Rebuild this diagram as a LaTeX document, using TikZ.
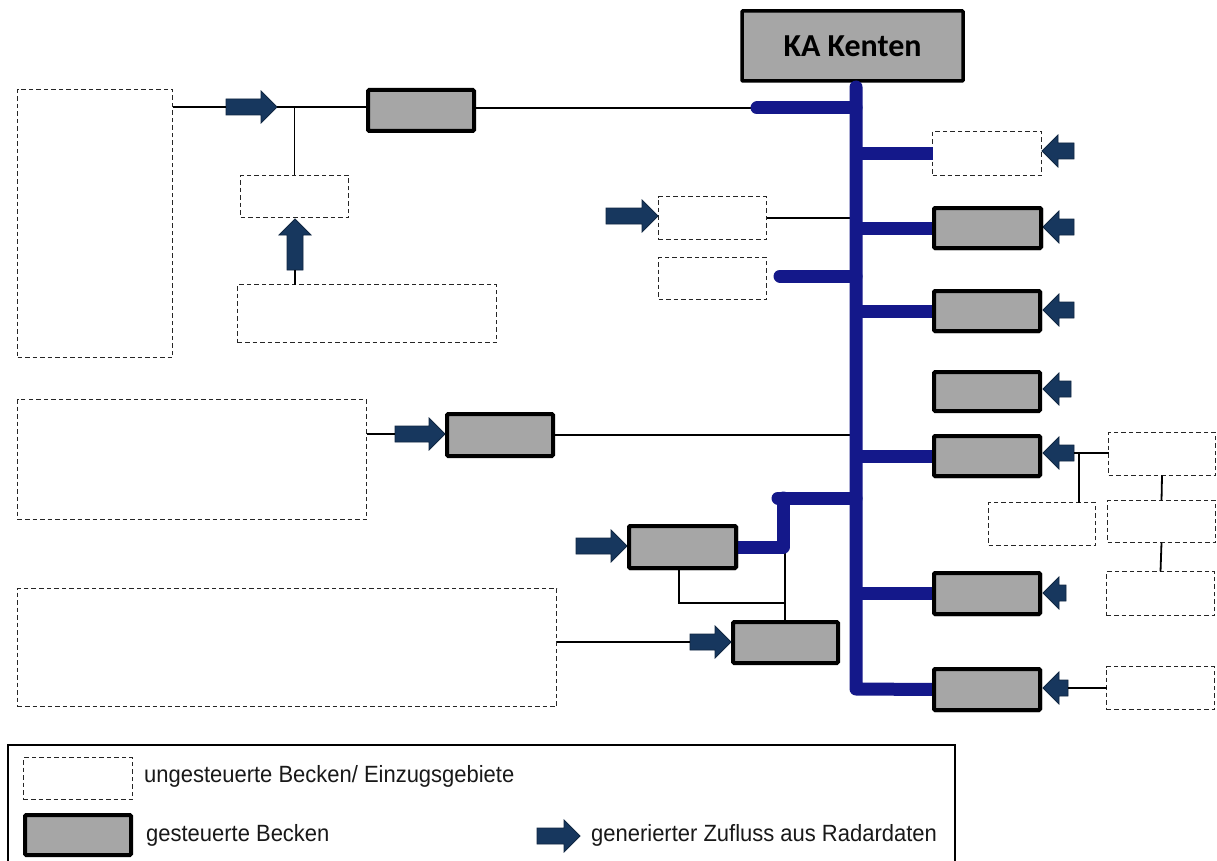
\documentclass[tikz,border=0pt]{standalone}
\usepackage{fontspec}
\setmainfont{Liberation Sans}
\newfontfamily\kafont{Carlito}
\newfontfamily\legfont[FakeStretch=0.935]{Liberation Sans}
\definecolor{busblue}{RGB}{20,24,138}
\definecolor{arrnavy}{RGB}{23,55,94}
\definecolor{basin}{RGB}{166,166,166}
\tikzset{
  unc/.style={draw=black!85, dash pattern=on 4.5pt off 3pt, line width=1.5pt, fill=white, inner sep=0pt, outer sep=0pt},
  ctl/.style={draw=black, line width=4pt, fill=basin, rounded corners=1.2pt, inner sep=0pt, outer sep=0pt},
  thin/.style={draw=black, line width=1.8pt},
  busline/.style={draw=busblue, line width=13pt, line cap=round, line join=round},
  arrowbody/.style={fill=arrnavy, draw=arrnavy!70!black, line width=0.8pt},
  legtext/.style={font=\legfont\fontsize{23.5}{27}\selectfont, anchor=west, inner sep=0pt, text=black!90},
  pics/flowarrow/.style={code={
    \filldraw[arrowbody] (0,0) -- (-16,-16) -- (-16,-8) -- (-#1,-8) -- (-#1,8) -- (-16,8) -- (-16,16) -- cycle;
    \coordinate (-tip) at (0,0);
    \coordinate (-tail) at (-#1,0);
  }}
}
\begin{document}
\begin{tikzpicture}[x=1pt,y=-1pt]
\fill[white] (0,0) rectangle (1217,861);
\useasboundingbox (0,0) rectangle (1217,861);

% uncontrolled basins
\node[unc, minimum width=155pt, minimum height=268pt] (lt) at (95,223.5) {};
\node[unc, minimum width=108pt, minimum height=42pt] (sd) at (294.5,196.5) {};
\node[unc, minimum width=259pt, minimum height=58pt] (ld) at (367,313.5) {};
\node[unc, minimum width=349pt, minimum height=120pt] (m1) at (192,459.5) {};
\node[unc, minimum width=539pt, minimum height=118pt] (m2) at (287,647.5) {};
\node[unc, minimum width=108pt, minimum height=43pt] (l1) at (712.5,218) {};
\node[unc, minimum width=108pt, minimum height=42pt] (l2) at (712.5,278.5) {};
\node[unc, minimum width=109pt, minimum height=44pt] (r1) at (987,153.5) {};
\node[unc, minimum width=107pt, minimum height=43pt] (rr1) at (1162,454) {};
\node[unc, minimum width=108pt, minimum height=42pt] (rr2) at (1161.5,521.5) {};
\node[unc, minimum width=107pt, minimum height=43pt] (rl) at (1042,524) {};
\node[unc, minimum width=108pt, minimum height=44pt] (rr3) at (1160.5,593.5) {};
\node[unc, minimum width=108pt, minimum height=43pt] (rr4) at (1160.5,688) {};

% controlled basins
\node[ctl, minimum width=221pt, minimum height=70pt, line width=3.5pt, rounded corners=0.8pt,
      font=\kafont\bfseries\fontsize{32}{36}\selectfont] (ka) at (852.5,46) {KA Kenten};
\node[ctl, minimum width=106pt, minimum height=41pt] (ctop) at (421,110.5) {};
\node[ctl, minimum width=106pt, minimum height=42pt] (cm) at (500,435) {};
\node[ctl, minimum width=107pt, minimum height=42pt] (c1) at (682.5,547) {};
\node[ctl, minimum width=105pt, minimum height=41pt] (c2) at (785.5,642.5) {};
\node[ctl, minimum width=107pt, minimum height=40pt] (r2) at (987.5,228) {};
\node[ctl, minimum width=106pt, minimum height=40pt] (r3) at (987,311) {};
\node[ctl, minimum width=106pt, minimum height=39pt] (r4) at (987,391.5) {};
\node[ctl, minimum width=106pt, minimum height=40pt] (r5) at (987,456) {};
\node[ctl, minimum width=106pt, minimum height=41pt] (r6) at (987,593.5) {};
\node[ctl, minimum width=106pt, minimum height=41pt] (r7) at (987,689.5) {};

% generated inflow arrows
\pic (a1) at (277,107) {flowarrow=51};
\pic[rotate=90] (a2) at (295,219) {flowarrow=51};
\pic (am) at (445,434) {flowarrow=50};
\pic (al1) at (658,216) {flowarrow=52};
\pic (ac1) at (627,546) {flowarrow=51};
\pic (ac2) at (731,642) {flowarrow=41};
\pic[rotate=180] (ar1) at (1042,151) {flowarrow=32};
\pic[rotate=180] (ar2) at (1043,227) {flowarrow=31};
\pic[rotate=180] (ar3) at (1043,310) {flowarrow=31};
\pic[rotate=180] (ar4) at (1043,389) {flowarrow=28};
\pic[rotate=180] (ar5) at (1043,453) {flowarrow=31};
\pic[rotate=180] (ar6) at (1043,593) {flowarrow=23};
\pic[rotate=180] (ar7) at (1043,688) {flowarrow=25};

% helper coordinates
\coordinate (bustop) at (856,87);
\coordinate (busbot) at (856,689);
\coordinate (tcap) at (757,108);
\coordinate (l2cap) at (780,276);
\coordinate (mcap) at (778,498);
\coordinate (mcorner) at (783,498);
\coordinate (mlow) at (783,547);
\coordinate (c1j) at (679,603);
\coordinate (c2j) at (785,552);
\coordinate (j5) at (1079,453);

% thin connectors
\draw[thin] (a1-tail -| lt.east) -- (a1-tail);
\draw[thin] (a1-tip) -- (a1-tip -| ctop.west);
\draw[thin] (sd.north |- a1-tip) -- (sd.north);
\draw[thin] (a2-tail) -- (a2-tail |- ld.north);
\draw[thin] (ctop.east |- tcap) -- (tcap);
\draw[thin] (am-tail -| m1.east) -- (am-tail);
\draw[thin] (cm.east) -- (cm.east -| bustop);
\draw[thin] (l1.east) -- (l1.east -| bustop);
\draw[thin] (c1.south -| c1j) -- (c1j) -- (c1j -| c2j);
\draw[thin] (c2j) -- (c2j |- c2.north);
\draw[thin] (ac2-tail -| m2.east) -- (ac2-tail);
\draw[thin] (ar5-tail) -- (ar5-tail -| rr1.west);
\draw[thin] (j5) -- (j5 |- rl.north);
\draw[thin] (rr1.south) -- (rr2.north);
\draw[thin] (rr2.south) -- (rr3.north);
\draw[thin] (ar7-tail) -- (ar7-tail -| rr4.west);

% sewer main (blue)
\draw[busline] (bustop) -- (busbot) -- (r7.west);
\draw[busline] (tcap) -- (tcap -| bustop);
\draw[busline] (l2cap) -- (l2cap -| bustop);
\draw[busline] (mcap) -- (mcap -| bustop);
\draw[busline] (mcorner) -- (mlow) -- (c1.east);
\draw[busline, line cap=butt] (r1.west -| bustop) -- (r1.west);
\draw[busline, line cap=butt] (r2.west -| bustop) -- (r2.west);
\draw[busline, line cap=butt] (r3.west -| bustop) -- (r3.west);
\draw[busline, line cap=butt] (r5.west -| bustop) -- (r5.west);
\draw[busline, line cap=butt] (r6.west -| bustop) -- (r6.west);
% redraw box borders over branch ends
\node[ctl, minimum width=106pt, minimum height=41pt] at (r7) {};
\node[ctl, minimum width=107pt, minimum height=40pt] at (r2) {};
\node[ctl, minimum width=106pt, minimum height=40pt] at (r3) {};
\node[ctl, minimum width=106pt, minimum height=40pt] at (r5) {};
\node[ctl, minimum width=106pt, minimum height=41pt] at (r6) {};
\node[ctl, minimum width=107pt, minimum height=42pt] at (c1) {};

% legend
\draw[line width=2.5pt] (8,870) -- (8,745) -- (955,745) -- (955,870);
\node[unc, minimum width=109pt, minimum height=42pt] (lgu) at (78,778.5) {};
\node[ctl, minimum width=106pt, minimum height=40pt] (lgc) at (78,835) {};
\pic (lga) at (580,836) {flowarrow=43};
\node[legtext] (lgut) at (144,776) {ungesteuerte Becken/ Einzugsgebiete};
\node[legtext] (lgct) at (146,835) {gesteuerte Becken};
\node[legtext] (lgat) at (591,835) {generierter Zufluss aus Radardaten};
\end{tikzpicture}
\end{document}
